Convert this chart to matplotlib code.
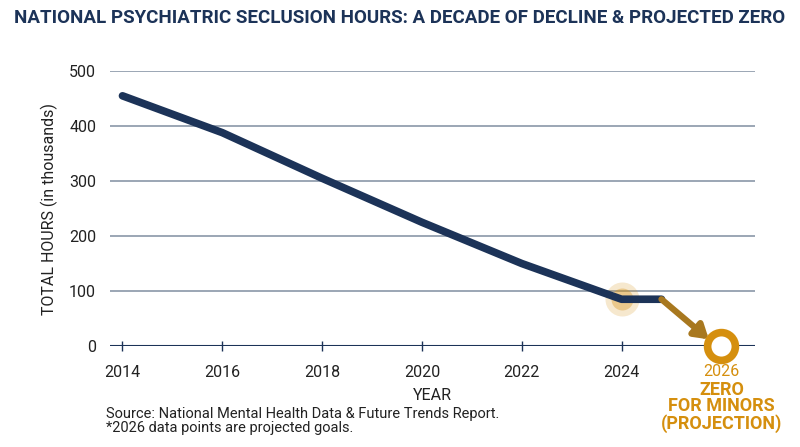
import matplotlib.pyplot as plt

plt.rcParams['font.family'] = ['Roboto', 'DejaVu Sans']

years = [2014, 2016, 2018, 2020, 2022, 2024, 2024.8]
hours = [455, 388, 305, 225, 150, 85, 85]
proj_year = 2026
proj_value = 0
ticks = [2014, 2016, 2018, 2020, 2022, 2024]

navy = "#1c3358"
gold = "#d58f0e"

fig = plt.figure(figsize=(8, 4.47), dpi=100)
ax = fig.add_axes([0.1375, 0.226, 0.806, 0.615])

ax.set_xlim(2013.75, 2026.67)
ax.set_ylim(0, 500)
for v in [100, 200, 300, 400, 500]:
    ax.axhline(v, color="#8a97a8", lw=1.2, zorder=1)
ax.axhline(0, color=navy, lw=1.5, zorder=1)

ax.plot(years, hours, color=navy, lw=5.5, solid_capstyle="round", zorder=3)
# glow at 2024
ax.scatter([2024], [85], s=600, color=gold, alpha=0.2, lw=0, zorder=2)
ax.scatter([2024], [85], s=250, color=gold, alpha=0.35, lw=0, zorder=2)
ax.annotate("", xy=(2025.75, 12), xytext=(2024.8, 85),
            arrowprops=dict(arrowstyle="-|>,head_width=0.5,head_length=0.8",
                            color="#a8781f", lw=4.5, shrinkA=0, shrinkB=0), zorder=4)
ax.scatter([proj_year], [proj_value], s=400, facecolor="white", edgecolor=gold,
           lw=5.5, zorder=5, clip_on=False)

ax.set_yticks([0, 100, 200, 300, 400, 500])
ax.set_xticks(ticks)
ax.tick_params(axis="y", length=0, labelsize=11.5, labelcolor="#222222", pad=10)
ax.tick_params(axis="x", length=7, width=1, color=navy, direction="inout",
               labelsize=11.5, labelcolor="#222222", pad=10)
for s in ax.spines.values():
    s.set_visible(False)

ax.text(2026, -46, "2026", color=gold, fontsize=11.5, ha="center", va="center", clip_on=False)
ax.text(2026, -63, "ZERO\nFOR MINORS\n(PROJECTION)", color=gold, fontsize=13,
        fontweight="bold", ha="center", va="top", linespacing=0.9, clip_on=False)

ax.set_ylabel("TOTAL HOURS (in thousands)", fontsize=11.5, color="#222222", labelpad=8)
ax.set_xlabel("YEAR", fontsize=11.5, color="#222222", labelpad=6)

fig.text(0.5, 0.96, "NATIONAL PSYCHIATRIC SECLUSION HOURS: A DECADE OF DECLINE & PROJECTED ZERO",
         ha="center", va="center", fontsize=13.5, fontweight="bold", color=navy)
fig.text(0.133, 0.058, "Source: National Mental Health Data & Future Trends Report.\n*2026 data points are projected goals.",
         ha="left", va="center", fontsize=10.5, color="#222222", linespacing=1.0)

fig.savefig("out.png", dpi=100)
